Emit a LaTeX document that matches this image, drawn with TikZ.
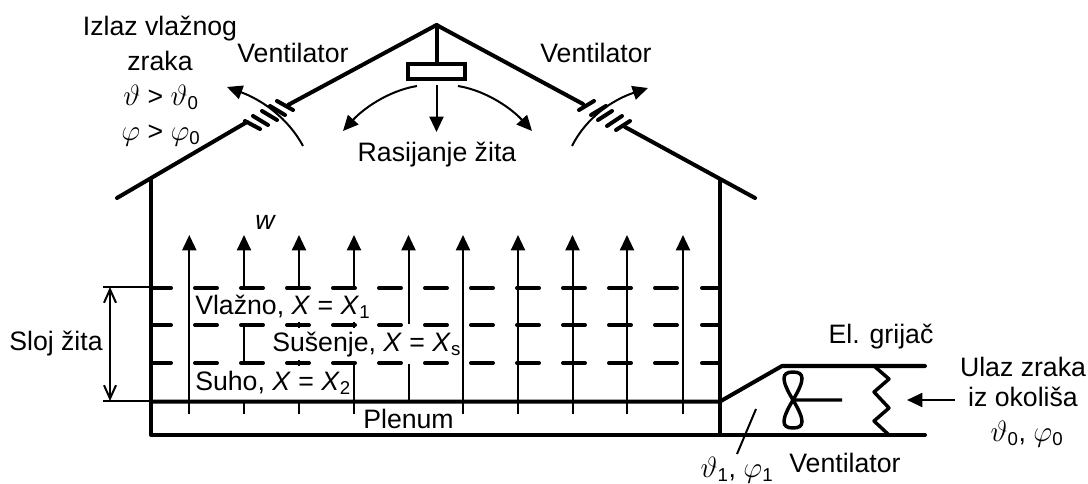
\documentclass[tikz,border=0pt]{standalone}
\usepackage{fix-cm}
\usepackage{fontspec}
\setmainfont{Liberation Sans}
\usetikzlibrary{arrows.meta}
\newcommand{\xx}{\textit{X}}
\newcommand{\sbs}[1]{\textsubscript{#1}}
\newcommand{\vth}{{\fontsize{22}{24}\selectfont$\vartheta$}}
\newcommand{\vph}{{\fontsize{22}{24}\selectfont$\varphi$}}
\tikzset{
  thick line/.style={line width=3pt,line cap=round,line join=round},
  bar line/.style={line width=3pt,line cap=round},
  thin line/.style={line width=1.5pt},
  flow/.style={line width=1.5pt,-{Triangle[length=11.5pt,width=10.5pt]}},
  label text/.style={inner sep=0pt,font=\fontsize{20}{24}\selectfont,text=black},
  layer dash/.style={line width=3pt,line cap=round}
}
\begin{document}
\begin{tikzpicture}[x=0.75pt,y=-0.75pt]
\useasboundingbox (0,0) rectangle (1088,484);
% building
\coordinate (apex) at (436.5,25);
\coordinate (lroofA) at (288,105);
\coordinate (lroofB) at (247,122);
\coordinate (lroofC) at (117,198);
\coordinate (rroofA) at (583,104);
\coordinate (rroofB) at (625,127);
\coordinate (rroofC) at (755,198);
\draw[thick line] (lroofA) -- (apex) -- (rroofA);
\draw[thick line] (lroofB) -- (lroofC);
\draw[thick line] (rroofB) -- (rroofC);
\draw[thick line] (151,180) -- (151,435) -- (720,435);
\draw[thick line] (720,180) -- (720,435) -- (925,435);
\draw[thick line] (151,401.5) -- (720,401.5) -- (782,366) -- (925,366);
% left vent bars
\foreach \a/\b/\c/\d in {277/101/293/110,270/106/285/115,262/111/277/120,253/116/268/125,245/121/260/129}
  \draw[bar line] (\a,\b) -- (\c,\d);
% right vent bars
\foreach \a/\b/\c/\d in {579/110/594/101,591/115/606/106,598/120/612/111,607/126/622/116,616/130/630/121}
  \draw[bar line] (\a,\b) -- (\c,\d);
\draw[flow] (303,146) .. controls (288,118) and (262,100) .. (227,87);
\draw[flow] (572,146) .. controls (586,118) and (612,100) .. (648,88);
% spreader
\draw[thick line] (apex) -- (436.5,63);
\node[draw,line width=3pt,minimum width=42.5pt,minimum height=11pt,inner sep=0pt,anchor=center] (spreader) at (436.5,71.5) {};
\draw[flow] (436.5,85) -- (436.5,132);
\draw[flow] (458,86) .. controls (488,91) and (513,110) .. (532,131);
\draw[flow] (417,86) .. controls (387,91) and (362,110) .. (343,131);
% layers
\foreach \y in {288,325,363}{
  \draw[layer dash] (151,\y) -- (171,\y);
  \foreach \s in {195,241,287,333,379,425,471,517,563,609,655}
    \draw[layer dash] (\s,\y) -- ({\s+22},\y);
  \draw[layer dash] (702,\y) -- (720,\y);
}
% upward air
\foreach \x in {189.3,244,299,354,408.5,463,518,572.5,627,683}
  \draw[flow] (\x,288) -- (\x,235);
\draw[thin line] (189.3,288) -- (189.3,414);
\draw[thin line] (244,327) -- (244,364);
\draw[thin line] (244,401) -- (244,414);
\draw[thin line] (299,360) -- (299,366);
\draw[thin line] (299,322) -- (299,328);
\draw[thin line] (299,401) -- (299,414);
\draw[thin line] (354,363) -- (354,414);
\draw[thin line] (354,322) -- (354,328);
\draw[thin line] (408.5,288) -- (408.5,324);
\draw[thin line] (408.5,364) -- (408.5,401);
\foreach \x in {463,518,572.5,627,683}
  \draw[thin line] (\x,288) -- (\x,414);
% layer dimension
\coordinate (dimtop) at (110,287);
\coordinate (dimbot) at (110,401);
\draw[thin line] (103,287) -- (151,287);
\draw[thin line] (103,401) -- (151,401);
\draw[thin line,{Straight Barb[length=10pt,width=9pt]}-{Straight Barb[length=10pt,width=9pt]}] (dimtop) -- (dimbot);
% fan and heater
\draw[line width=2.6pt] (793,400) .. controls (781,380) and (781,372) .. (793,372) .. controls (805,372) and (805,380) .. (793,400) .. controls (781,420) and (781,428) .. (793,428) .. controls (805,428) and (805,420) .. (793,400) -- (842,400);
\draw[line width=2.6pt,line join=round] (874,366) -- (889,379) -- (874,392) -- (889,408) -- (874,421) -- (889,435);
\draw[flow] (955,400) -- (907,400);
\coordinate (plenumPt) at (756,409);
\coordinate (thetaPt) at (737,454);
\draw[thin line] (plenumPt) -- (thetaPt);
% texts
\node[label text] (izlaz) at (160,29) {Izlaz vlažnog};
\node[label text] (zraka) at (160,61) {zraka};
\node[label text] (tgt) at (161,97) {\vth{} > \vth\sbs{0}};
\node[label text] (pgt) at (161,136) {\vph{} > \vph\sbs{0}};
\node[label text] (ventL) at (293,53) {Ventilator};
\node[label text] (ventR) at (596,53) {Ventilator};
\node[label text] (rasij) at (437,155) {Rasijanje žita};
\node[label text,font=\fontsize{20}{24}\selectfont\itshape] (w) at (265,222) {w};
\node[label text] (sloj) at (56,344) {Sloj žita};
\node[label text,anchor=west] (vlazno) at (195,307) {Vlažno, \xx{} = \xx\sbs{1}};
\node[label text,anchor=west] (susenje) at (272,345) {Sušenje, \xx{} = \xx\sbs{s}};
\node[label text,anchor=west] (suho) at (195,383) {Suho, \xx{} = \xx\sbs{2}};
\node[label text] (plenum) at (408.5,419) {Plenum};
\node[label text] (grijac) at (881,337) {El. grijač};
\node[label text] (ulaz) at (1023,367) {Ulaz zraka};
\node[label text] (okolis) at (1023,397) {iz okoliša};
\node[label text] (t0) at (1027,434) {\vth\sbs{0}, \vph\sbs{0}};
\node[label text] (t1) at (737,470) {\vth\sbs{1}, \vph\sbs{1}};
\node[label text] (ventB) at (845,463) {Ventilator};
\end{tikzpicture}
\end{document}
